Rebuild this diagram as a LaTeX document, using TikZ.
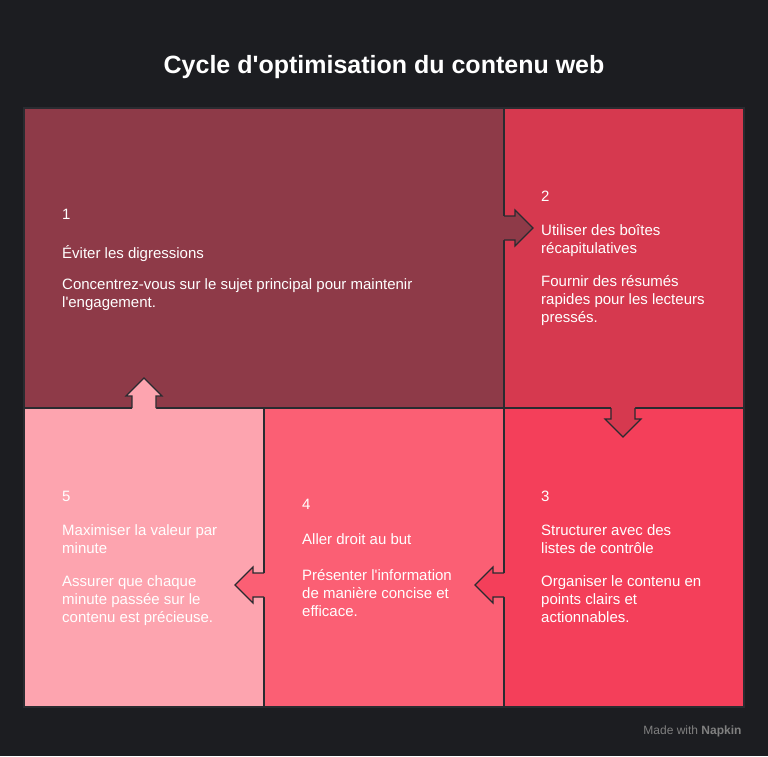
\documentclass[tikz,border=0pt]{standalone}
\usepackage{fontspec}
\setmainfont{Liberation Sans}[Ligatures=TeXOff]
\definecolor{bg}{HTML}{1C1D21}
\definecolor{edge}{HTML}{2A2B30}
\definecolor{cA}{HTML}{8E3A48}
\definecolor{cB}{HTML}{D6394F}
\definecolor{cC}{HTML}{F43F5A}
\definecolor{cD}{HTML}{FB5F74}
\definecolor{cE}{HTML}{FDA4AF}
\begin{document}
\begin{tikzpicture}[x=1pt,y=-1pt,
  box/.style={draw=edge,line width=1.2pt},
  txt/.style={anchor=north west,inner sep=0pt,align=left,text=white,font=\fontsize{15}{18}\selectfont},
  ar/.style={draw=edge,line width=1.2pt,line join=miter}]
\fill[bg] (0,0) rectangle (768,756);
\useasboundingbox (0,0) rectangle (768,756);
\node[anchor=center,text=white,font=\bfseries\fontsize{25}{28}\selectfont] (title) at (384,67) {Cycle d'optimisation du contenu web};
\fill[cA] (24,108) rectangle (504,408);
\fill[cB] (504,108) rectangle (744,408);
\fill[cC] (504,408) rectangle (744,707);
\fill[cD] (264,408) rectangle (504,707);
\fill[cE] (24,408) rectangle (264,707);
\draw[box] (24,108) rectangle (744,707);
\draw[box] (504,108) -- (504,707);
\draw[box] (24,408) -- (744,408);
\draw[box] (264,408) -- (264,707);
% arrow 1->2 (right)
\fill[cA] (503,216) -- (515,216) -- (515,210) -- (533,228) -- (515,246) -- (515,240) -- (503,240) -- cycle;
\draw[ar] (504,216) -- (515,216) -- (515,210) -- (533,228) -- (515,246) -- (515,240) -- (504,240);
% arrow 2->3 (down)
\fill[cB] (611,407) -- (611,419) -- (605,419) -- (623,437) -- (641,419) -- (635,419) -- (635,407) -- cycle;
\draw[ar] (611,408) -- (611,419) -- (605,419) -- (623,437) -- (641,419) -- (635,419) -- (635,408);
% arrow 3->4 (left)
\fill[cC] (505,573) -- (493,573) -- (493,567) -- (475,585) -- (493,603) -- (493,597) -- (505,597) -- cycle;
\draw[ar] (504,573) -- (493,573) -- (493,567) -- (475,585) -- (493,603) -- (493,597) -- (504,597);
% arrow 4->5 (left)
\fill[cD] (265,573) -- (253,573) -- (253,567) -- (235,585) -- (253,603) -- (253,597) -- (265,597) -- cycle;
\draw[ar] (264,573) -- (253,573) -- (253,567) -- (235,585) -- (253,603) -- (253,597) -- (264,597);
% arrow 5->1 (up)
\fill[cE] (132,409) -- (132,396) -- (126,396) -- (144,378) -- (162,396) -- (156,396) -- (156,409) -- cycle;
\draw[ar] (132,408) -- (132,396) -- (126,396) -- (144,378) -- (162,396) -- (156,396) -- (156,408);
% texts
\node[txt] (n1) at (62,209) {1};
\node[txt] (t1) at (62,245) {Éviter les digressions};
\node[txt] (d1) at (62,278) {Concentrez-vous sur le sujet principal pour maintenir\\l'engagement.};
\node[txt] (n2) at (541,191) {2};
\node[txt] (t2) at (541,224) {Utiliser des boîtes\\récapitulatives};
\node[txt] (d2) at (541,275) {Fournir des résumés\\rapides pour les lecteurs\\pressés.};
\node[txt] (n3) at (541,491) {3};
\node[txt] (t3) at (541,524) {Structurer avec des\\listes de contrôle};
\node[txt] (d3) at (541,575) {Organiser le contenu en\\points clairs et\\actionnables.};
\node[txt] (n4) at (302,499) {4};
\node[txt] (t4) at (302,533) {Aller droit au but};
\node[txt] (d4) at (302,569) {Présenter l'information\\de manière concise et\\efficace.};
\node[txt] (n5) at (62,491) {5};
\node[txt] (t5) at (62,524) {Maximiser la valeur par\\minute};
\node[txt] (d5) at (62,575) {Assurer que chaque\\minute passée sur le\\contenu est précieuse.};
\node[anchor=east,text=gray,font=\fontsize{12}{14}\selectfont] (wm) at (745,731) {Made with \textbf{Napkin}};
\end{tikzpicture}
\end{document}
